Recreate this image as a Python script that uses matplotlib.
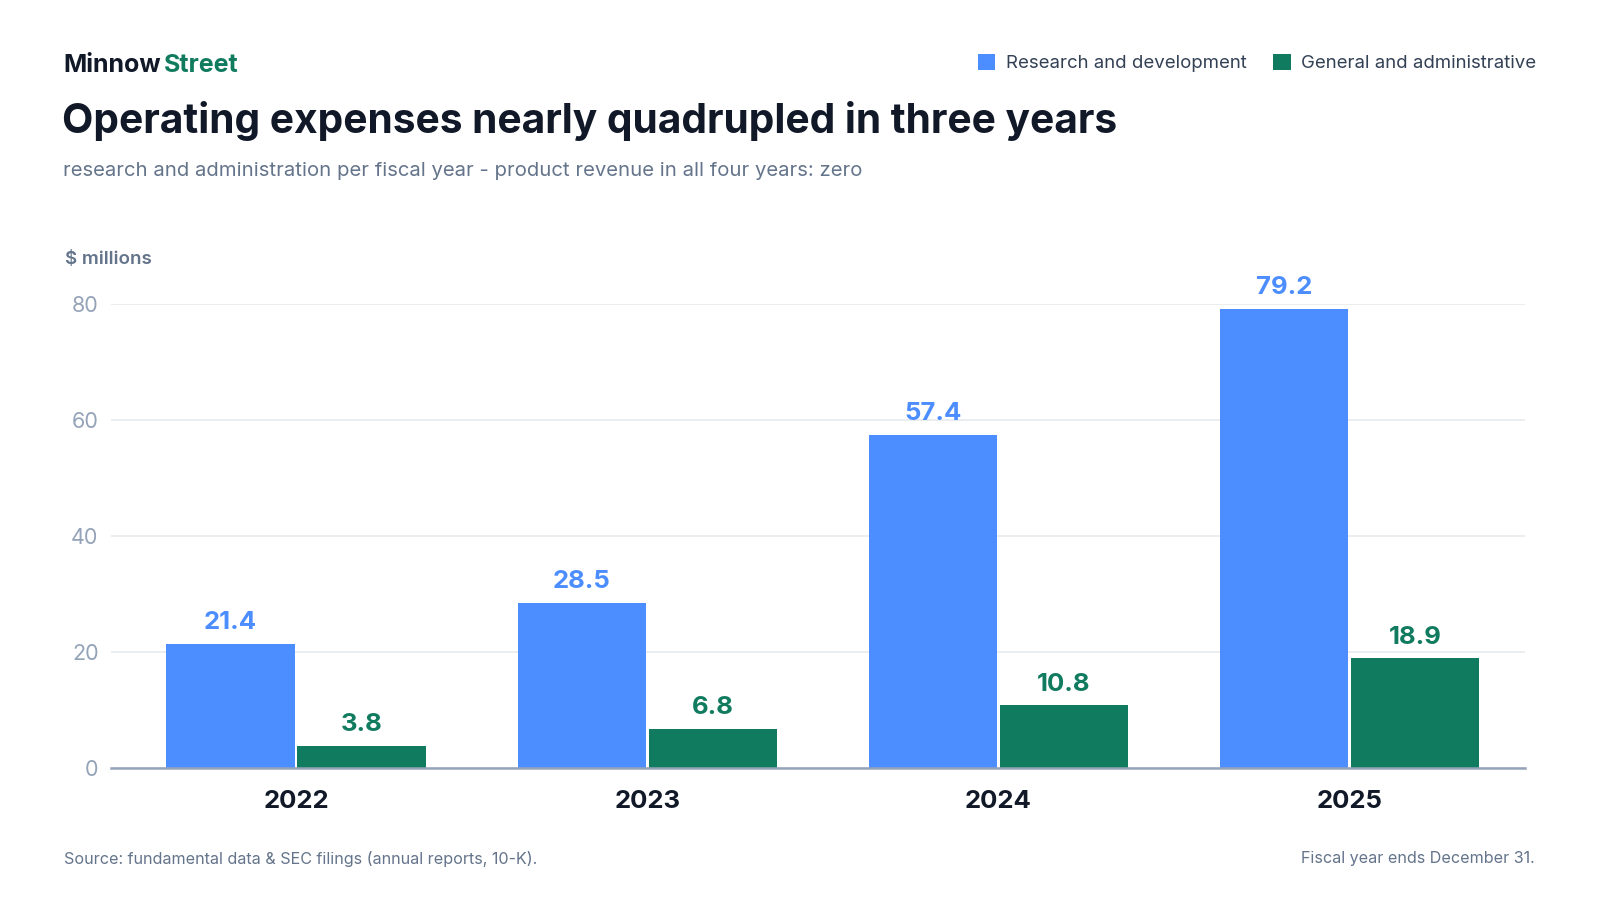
import matplotlib.pyplot as plt
import numpy as np

plt.rcParams.update({
    "font.family": ["Inter", "DejaVu Sans"],
})

years = ["2022", "2023", "2024", "2025"]
rnd = [21.4, 28.5, 57.4, 79.2]
gna = [3.8, 6.8, 10.8, 18.9]
y_ticks = [0, 20, 40, 60, 80]

BLUE = "#4c8dff"
GREEN = "#107b5e"
DARK = "#111827"
SLATE = "#334155"
GRAY = "#64748b"
LIGHT = "#94a3b8"

W, H = 1600, 900
fig = plt.figure(figsize=(16, 9), dpi=100)
fig.patch.set_facecolor("white")


def px(x, y):
    return x / W, 1 - y / H


ax = fig.add_axes([111 / W, 1 - 768 / H, (1525 - 111) / W, (768 - 304) / H])

x = np.arange(len(years))
w = 0.365
off = 0.1866
ax.bar(x - off, rnd, width=w, color=BLUE, zorder=3, label="Research and development")
ax.bar(x + off, gna, width=w, color=GREEN, zorder=3, label="General and administrative")

for xi, v in zip(x, rnd):
    ax.annotate(f"{v:.1f}", (xi - off, v), xytext=(0, 7), textcoords="offset points",
                ha="center", va="bottom", fontsize=18.5, fontweight="bold", color=BLUE,
                annotation_clip=False)
for xi, v in zip(x, gna):
    ax.annotate(f"{v:.1f}", (xi + off, v), xytext=(0, 7), textcoords="offset points",
                ha="center", va="bottom", fontsize=18.5, fontweight="bold", color=GREEN,
                annotation_clip=False)

ax.set_xlim(-0.527, 3.5)
ax.set_ylim(0, 80)
ax.set_yticks(y_ticks)
ax.set_yticklabels([str(t) for t in y_ticks])
ax.set_xticks(x)
ax.set_xticklabels(years)
ax.grid(axis="y", color="#e8ebef", linewidth=1.2, zorder=0)
for s in ["top", "right", "left"]:
    ax.spines[s].set_visible(False)
ax.spines["bottom"].set_color(LIGHT)
ax.spines["bottom"].set_linewidth(1.8)
ax.spines["bottom"].set_zorder(4)
ax.tick_params(axis="y", length=0, pad=9, labelsize=15.5, labelcolor=LIGHT)
ax.tick_params(axis="x", length=0, pad=16, labelsize=18.5, labelcolor=DARK)
for lbl in ax.get_xticklabels():
    lbl.set_fontweight("bold")

# header
fig.text(*px(63, 65), "Minnow", fontsize=18, fontweight="bold", color=DARK, va="center")
fig.text(*px(164, 65), "Street", fontsize=18, fontweight="bold", color=GREEN, va="center")
fig.text(*px(62, 121), "Operating expenses nearly quadrupled in three years",
         fontsize=29.3, fontweight="bold", color=DARK, va="center")
fig.text(*px(63, 171), "research and administration per fiscal year - product revenue in all four years: zero",
         fontsize=14.6, color=GRAY, va="center")
fig.text(*px(65, 260), "$ millions", fontsize=13.5, fontweight="semibold", color=GRAY, va="center")

# legend
fig.legend(loc="center right", bbox_to_anchor=px(1536, 63), ncol=2, frameon=False,
           fontsize=13.4, handlelength=0.95, handleheight=0.95, handletextpad=0.55,
           columnspacing=1.43, labelcolor=SLATE, borderpad=0, borderaxespad=0)

# footer
fig.text(*px(64, 859), "Source: fundamental data & SEC filings (annual reports, 10-K).",
         fontsize=11.6, color=GRAY, va="center")
fig.text(*px(1535, 859), "Fiscal year ends December 31.", fontsize=11.6, color=GRAY,
         va="center", ha="right")

fig.savefig("out.png", dpi=100, facecolor="white")
